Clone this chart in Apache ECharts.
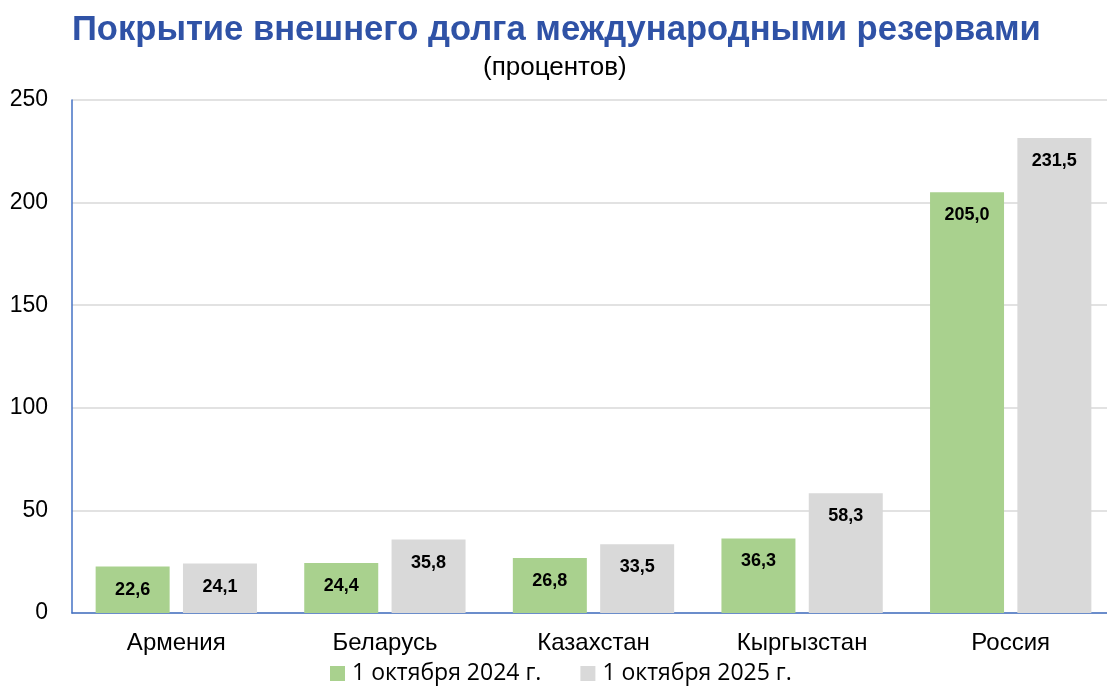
<!DOCTYPE html>
<html>
<head>
<meta charset="utf-8">
<script src="https://cdn.jsdelivr.net/npm/echarts@6/dist/echarts.min.js"></script>
<style>
  html, body { margin: 0; padding: 0; background: #fff; }
  #main { width: 1107px; height: 687px; }
</style>
</head>
<body>
<div id="main"></div>
<script>
var chart = echarts.init(document.getElementById("main"));

var strany = ["Армения", "Беларусь", "Казахстан", "Кыргызстан", "Россия"];
var okt2024 = [22.6, 24.4, 26.8, 36.3, 205.0];
var okt2025 = [24.1, 35.8, 33.5, 58.3, 231.5];
var serii = ["1 октября 2024 г.", "1 октября 2025 г."];

function fmt(p) {
  return p.value.toFixed(1).replace(".", ",");
}

var metka = {
  show: true,
  position: "insideTop",
  distance: 14,
  formatter: fmt,
  color: "#000",
  fontWeight: "bold",
  fontSize: 18,
  fontFamily: "Liberation Sans"
};

option = {
  animation: false,
  title: [
    {
      text: "Покрытие внешнего долга международными резервами",
      left: 67,
      top: 8,
      textStyle: {
        color: "#2F52A6",
        fontSize: 34.6,
        fontWeight: "bold",
        fontFamily: "Liberation Sans"
      }
    },
    {
      text: "(процентов)",
      left: 478,
      top: 50,
      textStyle: {
        color: "#000",
        fontSize: 26,
        fontWeight: "normal",
        fontFamily: "Liberation Sans"
      }
    }
  ],
  legend: {
    top: 662,
    left: 330,
    padding: 0,
    itemWidth: 15,
    itemHeight: 15,
    itemGap: 39,
    icon: "rect",
    textStyle: { fontSize: 23, lineHeight: 23, color: "#000", fontFamily: "Open Sans", padding: [0, 0, 0, 2] },
    data: serii
  },
  grid: { left: 72, width: 1043, top: 100, bottom: 74, outerBoundsMode: "none" },
  xAxis: {
    type: "category",
    data: strany,
    axisLine: { lineStyle: { color: "#4472C4", width: 1.5 } },
    axisTick: { show: false },
    axisLabel: { fontSize: 24, color: "#000", margin: 18, fontFamily: "Liberation Sans" }
  },
  yAxis: {
    type: "value",
    min: 0,
    max: 250,
    interval: 50,
    axisLine: { show: true, lineStyle: { color: "#4472C4", width: 1.5 } },
    splitLine: { lineStyle: { color: "#D9D9D9", width: 1.5 } },
    axisLabel: { fontSize: 23, color: "#000", margin: 24, fontFamily: "Liberation Sans" }
  },
  series: [
    {
      name: serii[0],
      type: "bar",
      data: okt2024,
      barWidth: 74,
      barGap: "18%",
      itemStyle: { color: "#A9D18E" },
      label: metka
    },
    {
      name: serii[1],
      type: "bar",
      data: okt2025,
      barWidth: 74,
      itemStyle: { color: "#D9D9D9" },
      label: metka
    }
  ]
};

chart.setOption(option);
</script>
</body>
</html>
